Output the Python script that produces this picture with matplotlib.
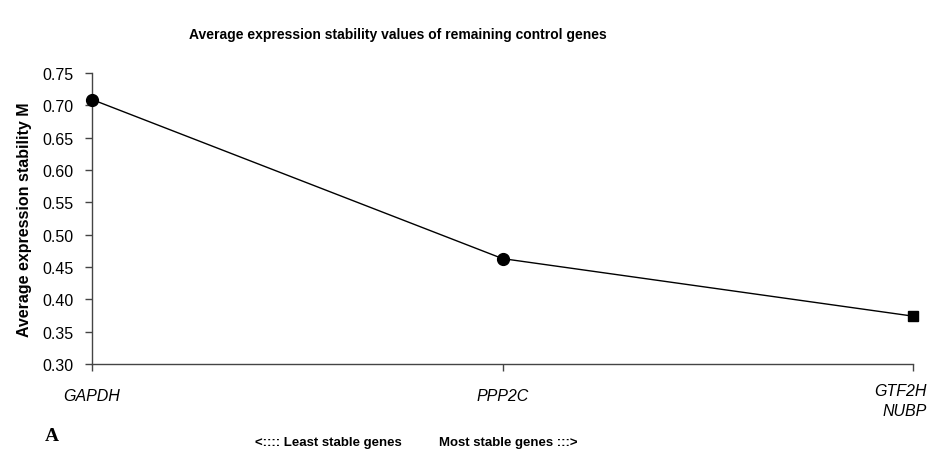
import matplotlib
matplotlib.use("Agg")
import matplotlib.pyplot as plt
import matplotlib.transforms as mtransforms

genes = ["GAPDH", "PPP2C", "GTF2H\nNUBP"]
m_values = [0.709, 0.463, 0.374]
y_ticks = [0.30, 0.35, 0.40, 0.45, 0.50, 0.55, 0.60, 0.65, 0.70, 0.75]

plt.rcParams['font.family'] = ['Liberation Sans', 'DejaVu Sans']

fig = plt.figure(figsize=(9.33, 4.64), dpi=100)
ax = fig.add_axes([92/933, 1-365/464, (913-92)/933, (365-74)/464])

x = list(range(len(genes)))
ax.plot(x, m_values, color='black', lw=1.0, zorder=2)
markers = ['o', 'o', 's']
sizes = [8.5, 8.5, 6.5]
for xi, yi, mk, ms in zip(x, m_values, markers, sizes):
    ax.plot([xi], [yi], marker=mk, ms=ms, color='black', zorder=3, clip_on=False)

ax.set_xlim(0, len(genes) - 1)
ax.set_ylim(y_ticks[0], y_ticks[-1])
ax.set_yticks(y_ticks)
ax.set_yticklabels([f"{v:.2f}" for v in y_ticks], fontsize=11.5)
ax.set_xticks(x)
ax.set_xticklabels(genes[:-1] + [""], fontsize=11.5, style='italic')
# last label placed at the right edge like the reference
off = mtransforms.ScaledTranslation(14/100, -19/100, fig.dpi_scale_trans)
ax.text(x[-1], 0, genes[-1], transform=ax.get_xaxis_transform() + off,
        ha='right', va='top', fontsize=11.5, style='italic', linespacing=1.45,
        multialignment='right')

for s in ['top', 'right']:
    ax.spines[s].set_visible(False)
for s in ['left', 'bottom']:
    ax.spines[s].set_color('#444444')
    ax.spines[s].set_linewidth(1.0)
ax.tick_params(axis='both', colors='#444444', labelcolor='black', length=5, width=1)
ax.tick_params(axis='x', pad=12)
ax.tick_params(axis='y', pad=8)

ax.set_ylabel("Average expression stability M", fontsize=11.5, fontweight='bold', labelpad=8)

fig.text(398/933, 1-35/464, "Average expression stability values of remaining control genes",
         ha='center', va='center', fontsize=10, fontweight='bold',
         family=['Liberation Sans Narrow', 'Liberation Sans', 'DejaVu Sans'])
fig.text(52/933, 1-437/464, "A", ha='center', va='center', fontsize=14, fontweight='bold',
         family=['Liberation Serif', 'DejaVu Serif'])
fig.text(328/933, 1-443/464, "<:::: Least stable genes", ha='center', va='center',
         fontsize=9.5, fontweight='bold',
         family=['Liberation Sans Narrow', 'Liberation Sans', 'DejaVu Sans'])
fig.text(508/933, 1-443/464, "Most stable genes :::>", ha='center', va='center',
         fontsize=9.5, fontweight='bold',
         family=['Liberation Sans Narrow', 'Liberation Sans', 'DejaVu Sans'])

fig.savefig("out.png", dpi=100)
